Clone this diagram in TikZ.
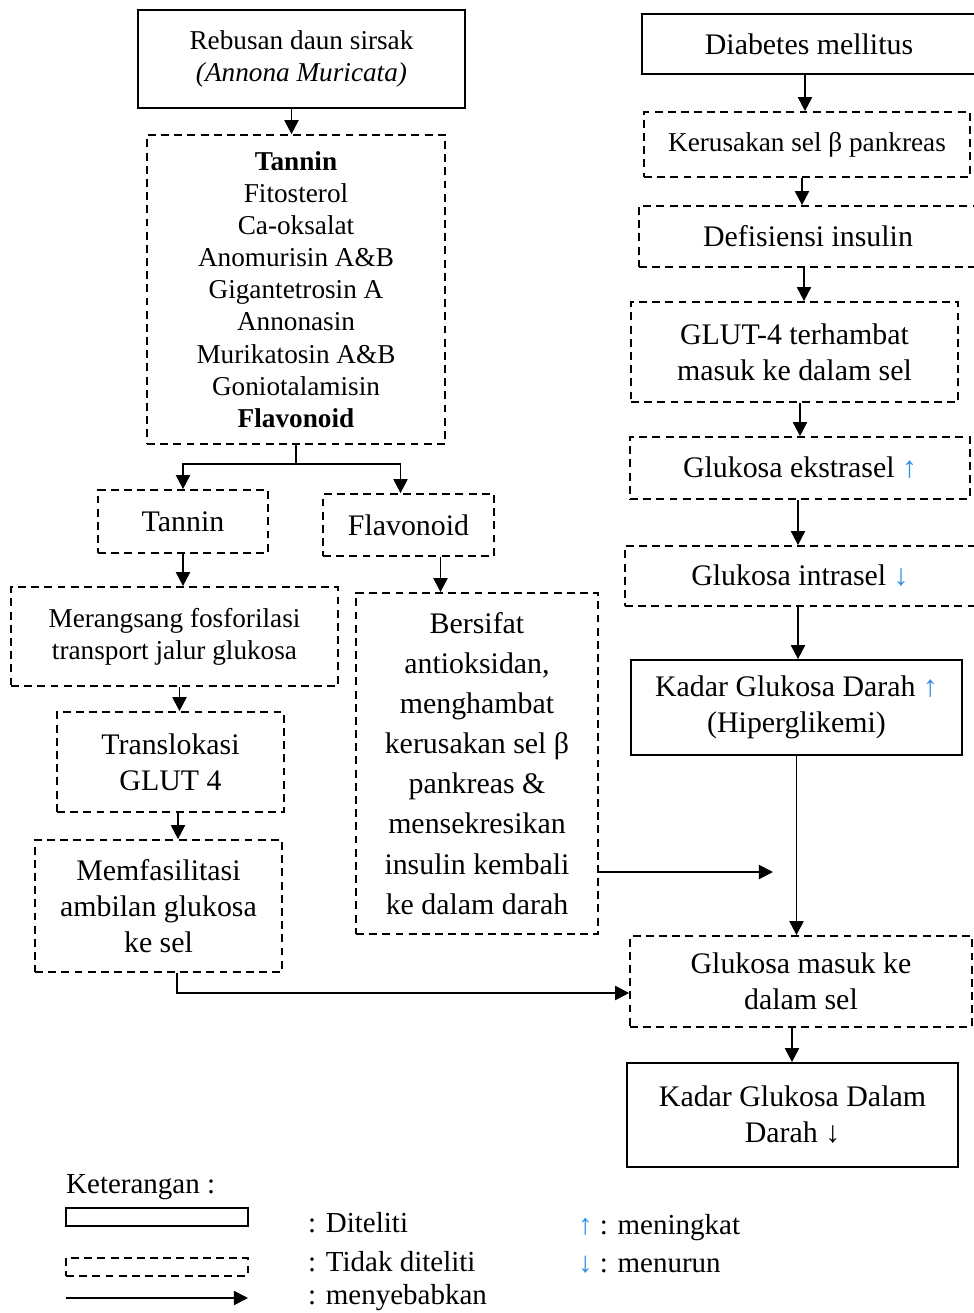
\documentclass[tikz,border=0pt]{standalone}
\usepackage{fontspec}
\setmainfont{Liberation Serif}
\usetikzlibrary{arrows.meta, positioning}
\definecolor{upblue}{RGB}{45,140,225}
\newcommand{\naik}{\textcolor{upblue}{↑}}
\newcommand{\turun}{\textcolor{upblue}{↓}}

\begin{document}
\begin{tikzpicture}[x=0.02cm, y=-0.02cm,
  solidbox/.style={rectangle, draw, line width=1pt, align=center,
                   inner sep=2pt, font=\fontsize{17}{20.5}\selectfont},
  dashbox/.style={solidbox, dash pattern=on 4.5pt off 3pt},
  small/.style={font=\fontsize{15.5}{18.3}\selectfont},
  cause/.style={-{Triangle[length=8pt, width=8pt]}, line width=1.1pt},
  legend/.style={anchor=west, font=\fontsize{16.5}{19}\selectfont}
]
\useasboundingbox (0,0) rectangle (974,1313);

% Left column: extract and its compounds
\node[solidbox, small, minimum width=6.54cm, minimum height=1.96cm] (rebus)
    at (301.5,59) {Rebusan daun sirsak\\\textit{(Annona Muricata)}};
\node[dashbox, small, minimum width=5.96cm, minimum height=6.18cm] (senyawa)
    at (296,289.5) {\textbf{Tannin}\\Fitosterol\\Ca-oksalat\\Anomurisin A\&B\\
    Gigantetrosin A\\Annonasin\\Murikatosin A\&B\\Goniotalamisin\\\textbf{Flavonoid}};
\node[dashbox, minimum width=3.4cm, minimum height=1.26cm] (tannin)
    at (183,521.5) {Tannin};
\node[dashbox, minimum width=3.42cm, minimum height=1.24cm] (flavo)
    at (408.5,525) {Flavonoid};
\node[dashbox, small, minimum width=6.54cm, minimum height=1.98cm] (fosfo)
    at (174.5,636.5) {Merangsang fosforilasi\\transport jalur glukosa};
\node[dashbox, minimum width=4.54cm, minimum height=2cm] (transl)
    at (170.5,762) {Translokasi\\GLUT 4};
\node[dashbox, minimum width=4.94cm, minimum height=2.64cm] (fasil)
    at (158.5,906) {Memfasilitasi\\ambilan glukosa\\ke sel};
\node[dashbox, font=\fontsize{17}{22.8}\selectfont,
      minimum width=4.84cm, minimum height=6.82cm] (antiok)
    at (477,763.5) {Bersifat\\antioksidan,\\menghambat\\kerusakan sel β\\
    pankreas \&\\mensekresikan\\insulin kembali\\ke dalam darah};

% Right column: course of the disease
\node[solidbox, minimum width=6.68cm, minimum height=1.2cm] (dm)
    at (809,44) {Diabetes mellitus};
\node[dashbox, small, minimum width=6.52cm, minimum height=1.3cm] (kerus)
    at (807,144.5) {Kerusakan sel β pankreas};
\node[dashbox, minimum width=6.76cm, minimum height=1.22cm] (defis)
    at (808,236.5) {Defisiensi insulin};
\node[dashbox, minimum width=6.54cm, minimum height=2cm] (glut)
    at (794.5,352) {GLUT-4 terhambat\\masuk ke dalam sel};
\node[dashbox, minimum width=6.8cm, minimum height=1.24cm] (ekstra)
    at (800,468) {Glukosa ekstrasel \naik};
\node[dashbox, minimum width=7cm, minimum height=1.2cm] (intra)
    at (800,576) {Glukosa intrasel \turun};
\node[solidbox, minimum width=6.62cm, minimum height=1.9cm] (kgd)
    at (796.5,707.5) {Kadar Glukosa Darah \naik\\(Hiperglikemi)};
\node[dashbox, minimum width=6.84cm, minimum height=1.82cm] (masuk)
    at (801,981.5) {Glukosa masuk ke\\dalam sel};
\node[solidbox, minimum width=6.62cm, minimum height=2.08cm] (kdd)
    at (792.5,1115) {Kadar Glukosa Dalam\\Darah ↓};

% Left arrows
\draw[cause] ([xshift=-0.2cm]rebus.south) -- ([xshift=-0.2cm]rebus.south |- senyawa.north);
\draw[cause] (senyawa.south) -- ++(0,19) -| (tannin.north);
\draw[cause] (senyawa.south) -- ++(0,19) -| ([xshift=-0.16cm]flavo.north);
\draw[cause] (tannin.south) -- (tannin.south |- fosfo.north);
\draw[cause] ([xshift=0.64cm]flavo.south) -- ([xshift=0.64cm]flavo.south |- antiok.north);
\draw[cause] ([xshift=0.1cm]fosfo.south) -- ([xshift=0.1cm]fosfo.south |- transl.north);
\draw[cause] ([xshift=0.15cm]transl.south) -- ([xshift=0.15cm]transl.south |- fasil.north);
\draw[cause] ([xshift=0.37cm]fasil.south) |- ([yshift=-0.23cm]masuk.west);
\coordinate (ujung) at (773,872);
\draw[cause] (antiok.east |- ujung) -- (ujung);

% Right arrows
\draw[cause] ([xshift=-0.08cm]dm.south) -- ([xshift=-0.08cm]dm.south |- kerus.north);
\draw[cause] ([xshift=-0.1cm]kerus.south) -- ([xshift=-0.1cm]kerus.south |- defis.north);
\draw[cause] ([xshift=-0.08cm]defis.south) -- ([xshift=-0.08cm]defis.south |- glut.north);
\draw[cause] ([xshift=0.11cm]glut.south) -- ([xshift=0.11cm]glut.south |- ekstra.north);
\draw[cause] ([xshift=-0.04cm]ekstra.south) -- ([xshift=-0.04cm]ekstra.south |- intra.north);
\draw[cause] ([xshift=-0.04cm]intra.south) -- ([xshift=-0.04cm]intra.south |- kgd.north);
\draw[cause] (kgd.south) -- (kgd.south |- masuk.north);
\draw[cause] ([xshift=-0.18cm]masuk.south) -- ([xshift=-0.18cm]masuk.south |- kdd.north);

% Legend
\node[legend] (ket) at (60,1187) {Keterangan :};
\node[solidbox, minimum width=3.64cm, minimum height=0.36cm, inner sep=0pt] (lgsolid)
    at (157,1217) {};
\node[dashbox, minimum width=3.64cm, minimum height=0.36cm, inner sep=0pt] (lgdash)
    at (157,1267) {};
\coordinate (lgA) at (66,1298);
\coordinate (lgB) at (248,1298);
\draw[cause] (lgA) -- (lgB);
\node[legend] (lg1) at (302,1223) {: Diteliti};
\node[legend] (lg2) at (302,1262) {: Tidak diteliti};
\node[legend] (lg3) at (302,1298) {: menyebabkan};
\node[legend] (lg4) at (572,1228) {\naik{} : meningkat};
\node[legend] (lg5) at (572,1265) {\turun{} : menurun};
\end{tikzpicture}
\end{document}
